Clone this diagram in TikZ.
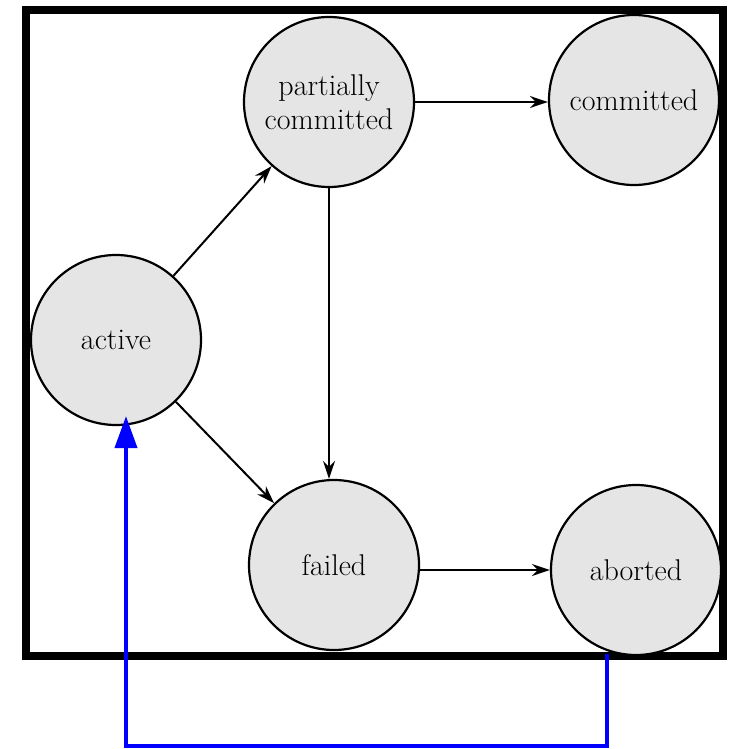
\documentclass[tikz,border=0pt]{standalone}
\usetikzlibrary{arrows.meta,calc}

\begin{document}
\begin{tikzpicture}[x=0.5pt,y=-0.5pt,
				state/.style={circle,draw,line width=1.1pt,fill=black!10,minimum size=85pt,inner sep=0pt,align=center,
					font=\fontsize{15}{17}\selectfont},
				flow/.style={-{Stealth[length=9pt,width=6pt]},line width=1pt},
				back/.style={-{Triangle[length=16pt,width=11pt]},draw=blue,line width=2pt}]
				\useasboundingbox (0,0) rectangle (734,749);
				\draw[line width=4pt] (26,10) rectangle (723,656);

				\node[state] (ACT)  at (116,340) {active};
				\node[state] (PART) at (329,102) {partially\\committed};
				\node[state] (COMM) at (634,100) {committed};
				\node[state] (FAIL) at (334,565) {failed};
				\node[state] (ABRT) at (636,570) {aborted};
				\coordinate (OUT)  at (607,654);
				\coordinate (BACK) at (126,746);

				\draw[flow] (ACT) -- (PART);
				\draw[flow] (ACT) -- (FAIL);
				\draw[flow] (PART.east) -- (PART.east -| COMM.west);
				\draw[flow] (PART.south) -- (PART.south |- FAIL.north);
				\draw[flow] (ABRT.west -| FAIL.east) -- (ABRT.west);
				\draw[back] (OUT) |- (BACK) -- (BACK |- ACT.south) [shorten >=-5pt];
			\end{tikzpicture}
\end{document}
